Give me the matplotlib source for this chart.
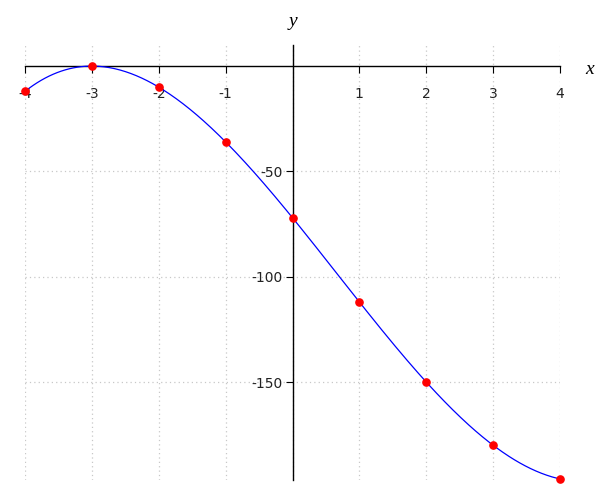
import numpy as np
import matplotlib
matplotlib.use("Agg")
import matplotlib.pyplot as plt

x_vals = [-4, -3, -2, -1, 0, 1, 2, 3, 4]
y_vals = [-12, 0, -10, -36, -72, -112, -150, -180, -196]
x_ticks = [-4, -3, -2, -1, 1, 2, 3, 4]
y_ticks = [-50, -100, -150]

fig = plt.figure(figsize=(6, 5), dpi=100)
ax = fig.add_axes([25/600, 1-480/500, 535/600, 435/500])
ax.set_xlim(-4, 4)
ax.set_ylim(-196.5, 10)

# smooth curve through the data points (cubic least-squares fit)
coef = np.polyfit(x_vals, y_vals, 3)
xs = np.linspace(min(x_vals), max(x_vals), 400)
ax.plot(xs, np.polyval(coef, xs), color="blue", lw=0.9, clip_on=False, zorder=3)
ax.plot(x_vals, y_vals, "o", color="red", ms=5.2, clip_on=False, zorder=4)

# grid
for xv in x_vals:
    ax.axvline(xv, color="#c8c8c8", lw=0.9, ls=(0, (1, 2.5)), zorder=0)
for yv in y_ticks:
    ax.axhline(yv, color="#c8c8c8", lw=0.9, ls=(0, (1, 2.5)), zorder=0)

# spines through origin
for s in ["top", "right"]:
    ax.spines[s].set_visible(False)
ax.spines["left"].set_position(("data", 0))
ax.spines["bottom"].set_position(("data", 0))
ax.spines["left"].set_linewidth(1.0)
ax.spines["bottom"].set_linewidth(1.0)

ax.set_xticks(x_ticks)
ax.set_xticklabels([str(v) for v in x_ticks])
ax.set_yticks(y_ticks)
ax.set_yticklabels([str(v) for v in y_ticks])
ax.tick_params(axis="x", direction="out", length=5, pad=10, labelsize=10, colors="black")
ax.tick_params(axis="y", direction="out", length=5, pad=2, labelsize=10, colors="black")
for lab in ax.get_xticklabels() + ax.get_yticklabels():
    lab.set_color("#222222")

fig.text(293/600, 1-22/500, "y", fontsize=14, fontstyle="italic", family="Liberation Serif", ha="center", va="center")
fig.text(590/600, 1-69/500, "x", fontsize=14, fontstyle="italic", family="Liberation Serif", ha="center", va="center")

fig.savefig("out.png", dpi=100)
